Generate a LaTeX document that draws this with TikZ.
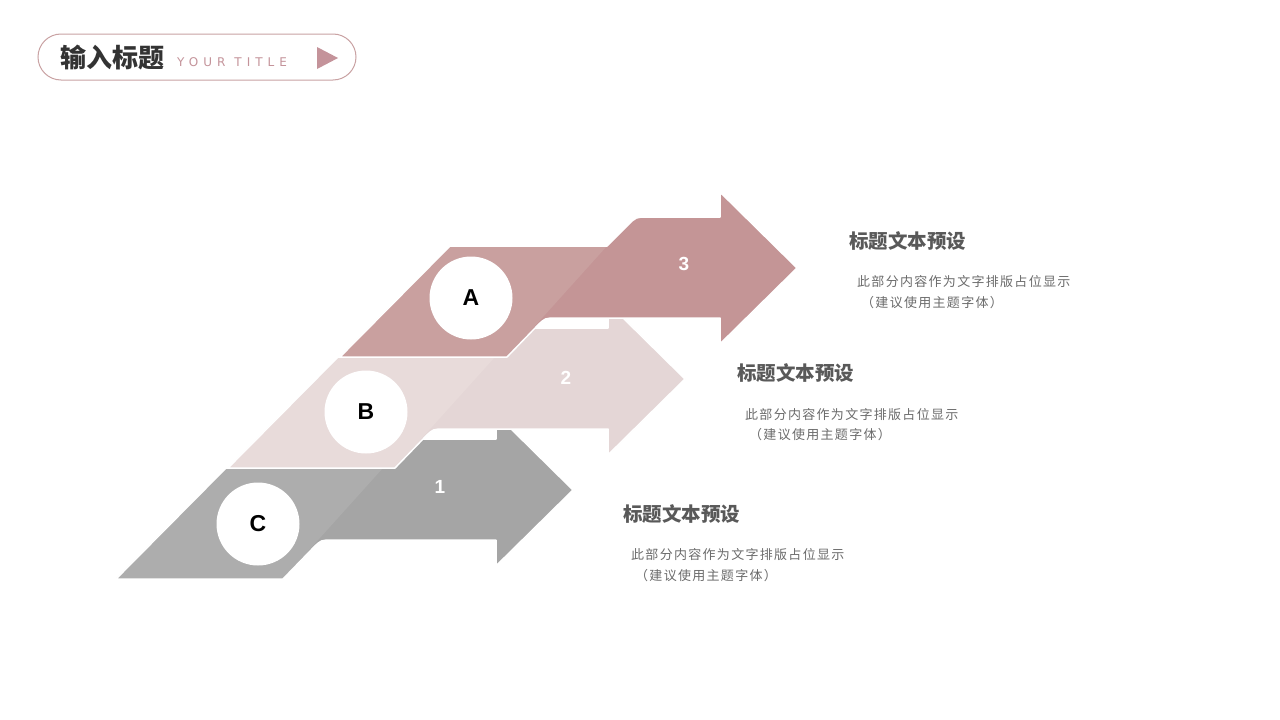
\documentclass[tikz,border=0pt]{standalone}
\usepackage{fontspec}
\setmainfont{Liberation Sans}
\newfontfamily\cjk{Noto Sans CJK SC}
\newfontfamily\latinwide{DejaVu Sans}[LetterSpace=42]
\definecolor{rosedark}{HTML}{C49596}
\definecolor{roselight}{HTML}{C9A09F}
\definecolor{pinkdark}{HTML}{E4D6D6}
\definecolor{pinklight}{HTML}{E8DBDA}
\definecolor{greydark}{HTML}{A5A5A5}
\definecolor{greylight}{HTML}{ADADAD}
\definecolor{pillline}{HTML}{C9A2A3}
\definecolor{tritone}{HTML}{C4939A}
\definecolor{headtxt}{HTML}{333333}
\definecolor{ttltxt}{HTML}{595959}
\definecolor{bodytxt}{HTML}{6B6B6B}
\newcommand\myband{(340,357) -- (450,246) -- (607,246) -- (628,225) .. controls (636,217) .. (648,217) -- (720,217) -- (720,199) .. controls (720,192) .. (725,197) -- (797,268) -- (725,339) .. controls (720,344) .. (720,337) -- (720,318) -- (557,318) .. controls (545,318) .. (537,326) -- (507,357) -- cycle}
\newcommand\mypara{(340,357) -- (450,246) -- (607,246) -- (507,357) -- cycle}
\begin{document}
\begin{tikzpicture}[x=1pt,y=-1pt,
  disc/.style={circle,fill=white,minimum size=83pt,inner sep=0pt,font=\bfseries\fontsize{23}{23}\selectfont,text=black},
  numlbl/.style={text=white,font=\bfseries\fontsize{19}{19}\selectfont,inner sep=0pt},
  ttl/.style={anchor=west,inner sep=0pt,text=ttltxt,font=\cjk\bfseries\fontsize{19.5}{19.5}\selectfont},
  bod/.style={anchor=west,inner sep=0pt,text=bodytxt,font=\cjk\fontsize{13}{13}\selectfont\addfontfeatures{LetterSpace=10}},
  edge/.style={draw=white,line width=1.5pt,line join=round}]
\fill[white] (0,0) rectangle (1280,720);
\useasboundingbox (0,0) rectangle (1280,720);
% header
\draw[pillline,line width=1pt,rounded corners=23pt] (38,34) rectangle (356,80);
\node[anchor=west,inner sep=0pt,text=headtxt,font=\cjk\bfseries\fontsize{26}{26}\selectfont] (htitle) at (60,57.5) {输入标题};
\node[anchor=base west,inner sep=0pt,text=tritone,font=\latinwide\fontsize{12}{12}\selectfont] (hsub) at (177,66) {YOUR TITLE};
\fill[tritone] (317,47) -- (338,58) -- (317,69) -- cycle;
% band C
\begin{scope}[shift={(-224,222)}]
\fill[greydark] \myband;
\fill[greylight] \mypara;
\path[edge] \myband;
\end{scope}
% band B
\begin{scope}[shift={(-112,111)}]
\fill[pinkdark] \myband;
\fill[pinklight] \mypara;
\path[edge] \myband;
\end{scope}
% band A
\fill[rosedark] \myband;
\fill[roselight] \mypara;
\path[edge] \myband;
% discs
\node[disc] (cA) at (471,298) {A};
\node[disc] (cB) at (366,412) {B};
\node[disc] (cC) at (258,524) {C};
% numbers
\node[numlbl] (n3) at (684,264) {3};
\node[numlbl] (n2) at (566,378) {2};
\node[numlbl] (n1) at (440,487) {1};
% text blocks
\node[ttl] (t3) at (849,241) {标题文本预设};
\node[bod] (b3a) at (857,282) {此部分内容作为文字排版占位显示};
\node[bod] (b3b) at (861,303) {（建议使用主题字体）};
\node[ttl] (t2) at (737,373) {标题文本预设};
\node[bod] (b2a) at (745,415) {此部分内容作为文字排版占位显示};
\node[bod] (b2b) at (749,435) {（建议使用主题字体）};
\node[ttl] (t1) at (623,514) {标题文本预设};
\node[bod] (b1a) at (631,555) {此部分内容作为文字排版占位显示};
\node[bod] (b1b) at (635,576) {（建议使用主题字体）};
\end{tikzpicture}
\end{document}
